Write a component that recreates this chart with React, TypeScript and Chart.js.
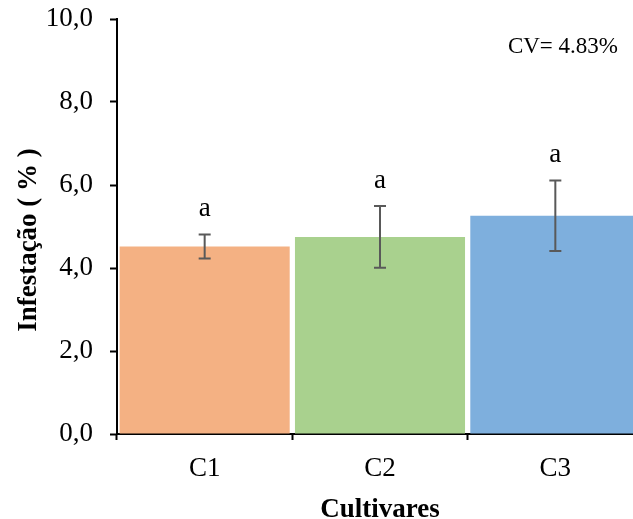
import React, { useEffect, useRef } from "react";
import { Chart, registerables } from "chart.js";

Chart.register(...registerables);

const categories = ["C1", "C2", "C3"];
const means = [4.52, 4.75, 5.26];
const errors = [0.29, 0.745, 0.85];
const letters = ["a", "a", "a"];
const barColors = ["#F4B183", "#A9D18E", "#7EAFDD"];
const yTicks = [0, 2, 4, 6, 8, 10];
const yTickLabels = ["0,0", "2,0", "4,0", "6,0", "8,0", "10,0"];
const xTitle = "Cultivares";
const yTitle = "Infestação ( % )";
const cvText = "CV= 4.83%";

const FONT = "'Liberation Serif', 'Times New Roman', serif";

const annotations = {
  id: "annotations",
  afterDatasetsDraw(chart: any) {
    const ctx = chart.ctx as CanvasRenderingContext2D;
    const meta = chart.getDatasetMeta(0);
    const ys = chart.scales.y;
    const area = chart.chartArea;
    ctx.save();
    meta.data.forEach((bar: any, i: number) => {
      const x = bar.x;
      const top = ys.getPixelForValue(means[i] + errors[i]);
      const bot = ys.getPixelForValue(means[i] - errors[i]);
      ctx.strokeStyle = "#595959";
      ctx.lineWidth = 2;
      ctx.beginPath();
      ctx.moveTo(x, top);
      ctx.lineTo(x, bot);
      ctx.moveTo(x - 6, top);
      ctx.lineTo(x + 6, top);
      ctx.moveTo(x - 6, bot);
      ctx.lineTo(x + 6, bot);
      ctx.stroke();
      ctx.fillStyle = "#000";
      ctx.font = `27px ${FONT}`;
      ctx.textAlign = "center";
      ctx.textBaseline = "alphabetic";
      ctx.fillText(letters[i], x, top - 18);
    });
    // CV text
    ctx.fillStyle = "#000";
    ctx.font = `23px ${FONT}`;
    ctx.textAlign = "right";
    ctx.textBaseline = "alphabetic";
    ctx.fillText(cvText, 618, 53);
    // X title
    ctx.font = `bold 27px ${FONT}`;
    ctx.textAlign = "center";
    ctx.fillText(xTitle, (area.left + area.right) / 2, 517);
    // Y title
    ctx.translate(36, 240);
    ctx.rotate(-Math.PI / 2);
    ctx.fillText(yTitle, 0, 0);
    ctx.restore();
  },
};

export default function App() {
  const ref = useRef<HTMLCanvasElement | null>(null);
  useEffect(() => {
    if (!ref.current) return;
    const chart = new Chart(ref.current, {
      type: "bar",
      data: {
        labels: categories,
        datasets: [
          {
            data: means,
            backgroundColor: barColors,
            borderWidth: 0,
            barPercentage: 0.97,
            categoryPercentage: 1.0,
          },
        ],
      },
      options: {
        responsive: false,
        animation: false,
        devicePixelRatio: 1,
        layout: { padding: { top: 19, left: 0, right: 0, bottom: 0 } },
        plugins: { legend: { display: false }, tooltip: { enabled: false } },
        scales: {
          x: {
            type: "category",
            offset: true,
            grid: {
              display: true,
              drawOnChartArea: false,
              drawTicks: true,
              tickLength: 6,
              tickWidth: 2,
              tickColor: "#000",
              offset: true,
            },
            border: { display: true, color: "#000", width: 2 },
            ticks: {
              color: "#000",
              font: { family: FONT, size: 27 },
              padding: 13,
              maxRotation: 0,
              autoSkip: false,
            },
            afterFit: (s: any) => {
              s.height = 85;
              s.paddingLeft = 0;
              s.paddingRight = 0;
            },
          },
          y: {
            min: 0,
            max: 10,
            afterBuildTicks: (s: any) => {
              s.ticks = yTicks.map((v) => ({ value: v }));
            },
            ticks: {
              color: "#000",
              font: { family: FONT, size: 27 },
              padding: 17,
              callback: (_v: any, i: number) => yTickLabels[i],
            },
            grid: {
              drawOnChartArea: false,
              drawTicks: true,
              tickLength: 7,
              tickWidth: 2,
              tickColor: "#000",
            },
            border: { display: true, color: "#000", width: 2 },
            afterFit: (s: any) => {
              s.width = 117;
              s.paddingTop = 0;
              s.paddingBottom = 0;
            },
          },
        },
      },
      plugins: [annotations],
    } as any);
    return () => chart.destroy();
  }, []);
  return (
    <div
      style={{
        position: "absolute",
        left: 0,
        top: 0,
        width: 633,
        height: 519,
        overflow: "hidden",
        background: "#fff",
      }}
    >
      <canvas ref={ref} width={643} height={519} style={{ display: "block" }} />
    </div>
  );
}
